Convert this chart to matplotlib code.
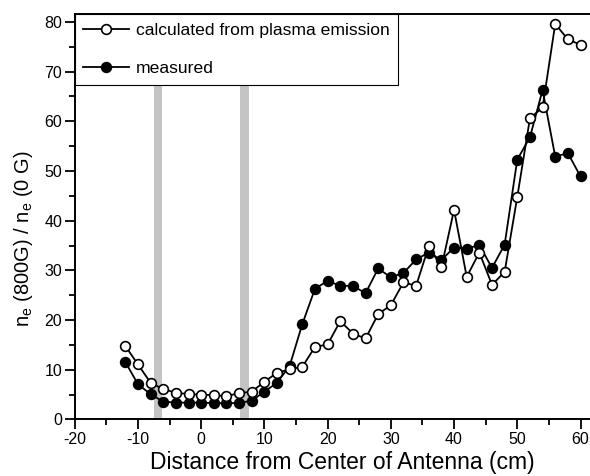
import numpy as np
import matplotlib
matplotlib.use('Agg')
import matplotlib.pyplot as plt
from matplotlib.ticker import MultipleLocator

plt.rcParams['font.family'] = ['Liberation Sans', 'DejaVu Sans']
plt.rcParams['mathtext.fontset'] = 'custom'
plt.rcParams['mathtext.rm'] = 'Liberation Sans'
plt.rcParams['axes.unicode_minus'] = False

# posicion (cm)
x = np.arange(-12, 61, 2)

# calculado a partir de la emision del plasma
calc = [14.8, 11.1, 7.4, 6.1, 5.4, 5.1, 5.0, 4.9, 4.7, 5.3, 5.6, 7.6, 9.4, 10.1,
        10.6, 14.6, 15.1, 19.8, 17.3, 16.3, 21.2, 23.0, 27.6, 26.9, 34.9, 30.6,
        42.2, 28.7, 33.6, 27.1, 29.7, 44.8, 60.6, 62.8, 79.6, 76.5, 75.4]

# medido
meas = [11.6, 7.1, 5.1, 3.6, 3.4, 3.4, 3.4, 3.3, 3.3, 3.3, 3.8, 5.6, 7.4, 10.8,
        19.2, 26.3, 27.9, 26.9, 26.9, 25.4, 30.4, 28.6, 29.5, 32.2, 33.6, 32.1,
        34.6, 34.4, 35.1, 30.5, 35.2, 52.3, 56.8, 66.3, 52.9, 53.6, 48.9]

# bandas grises (posicion de la antena)
bands = [(-7.5, -6.2), (6.2, 7.5)]

fig = plt.figure(figsize=(5.9, 4.76), dpi=100)
ax = fig.add_axes([0.1266, 0.1187, 0.8734, 0.8519])

for a, b in bands:
    ax.axvspan(a, b, color='#c4c4c4', lw=0, zorder=0)

ax.plot(x, calc, '-o', color='black', mfc='white', mec='black', ms=7, mew=1.2,
        lw=1.3, label='calculated from plasma emission', zorder=3)
ax.plot(x, meas, '-o', color='black', mfc='black', mec='black', ms=7, mew=1.2,
        lw=1.3, label='measured', zorder=2)

ax.set_xlim(-20, 61.5)
ax.set_ylim(0, 81.6)
ax.xaxis.set_major_locator(MultipleLocator(10))
ax.xaxis.set_minor_locator(MultipleLocator(5))
ax.yaxis.set_major_locator(MultipleLocator(10))
ax.yaxis.set_minor_locator(MultipleLocator(5))
ax.tick_params(which='both', direction='out', labelsize=11.5, width=1.3, pad=1.5)
ax.tick_params(which='major', length=7.5)
ax.tick_params(which='minor', length=4)
ax.spines['right'].set_visible(False)
for s in ['left', 'bottom', 'top']:
    ax.spines[s].set_linewidth(1.4)

ax.set_xlabel('Distance from Center of Antenna (cm)', fontsize=16.5, labelpad=0)
ax.set_ylabel(r'n$_\mathrm{e}$ (800G) / n$_\mathrm{e}$ (0 G)', fontsize=14.5)
ax.xaxis.set_label_coords(0.52, -0.078)
ax.yaxis.set_label_coords(-0.077, 0.445)

leg = ax.legend(loc='upper left', bbox_to_anchor=(0, 1), borderaxespad=0,
                fontsize=12.6, frameon=True, fancybox=False, edgecolor='black',
                framealpha=1, labelspacing=1.3, handlelength=2.6, handletextpad=0.4,
                borderpad=0.5)
leg.get_frame().set_linewidth(0.8)

fig.savefig('out.png', dpi=100)
